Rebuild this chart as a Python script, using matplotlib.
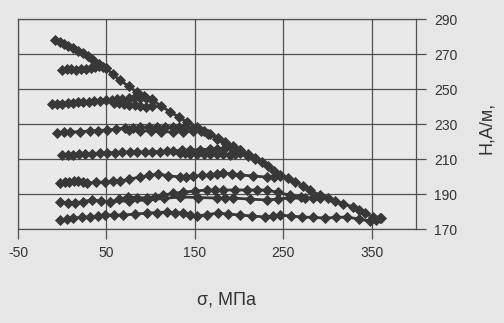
import matplotlib
matplotlib.use("Agg")
import matplotlib.pyplot as plt

plt.rcParams["axes.unicode_minus"] = False

# envelope (upper boundary) and the family of H(sigma) curves
env_s = [-8, -3, 2, 7, 12, 18, 23, 29, 35, 42, 50, 57, 65, 75, 84, 93, 102, 112,
         122, 132, 141, 152, 160, 167, 176, 184, 193, 201, 210, 218, 226, 233,
         240, 246, 255, 263, 272, 280, 291, 300, 308, 318, 329, 336, 342, 351,
         359]
env_h = [278, 276.8, 275.7, 274.6, 273.4, 272, 270.6, 268.6, 266.6, 264.5, 262,
         258.5, 255.1, 251.6, 248.3, 246, 243.7, 240.3, 236.9, 234, 231.1, 228.3,
         226.3, 224.3, 222, 219.7, 217.4, 215.1, 212.8, 210.6, 208.3, 206, 203.4,
         200.9, 198.9, 196.9, 194.6, 192.3, 189.4, 187.7, 186, 184.3, 182.6,
         180.8, 179.1, 176.9, 176.3]

c1_s = [0, 5, 10, 16, 21, 27, 32, 37, 42, 46, 50]
c1_h = [261, 261.3, 261.4, 260.9, 261.2, 261.4, 262, 262.5, 263, 262.6, 262]

c2_s = [-12, -6, 0, 6, 12, 18, 24, 30, 36, 43, 50, 56, 62, 68, 75, 81, 88, 95,
        102]
c2_h = [241.5, 241.6, 241.7, 242, 242.3, 242.4, 242.6, 242.8, 243, 243.2,
        243.5, 243.8, 244.2, 244.5, 244.8, 244.8, 244.8, 244.6, 244.3]
c2b_s = [102, 95, 88, 82, 76, 70, 64, 58]
c2b_h = [240.5, 239.7, 240.1, 240.6, 241, 241.5, 241.9, 242.3]

c3_s = [-6, 2, 9, 20, 31, 41, 51, 61, 71, 80, 88, 98, 107, 116, 125, 132, 139,
        148, 157, 165, 175, 185, 193, 201, 210, 218]
c3_h = [224.9, 225.2, 225.4, 225.7, 226, 226.3, 226.6, 227.2, 227.7, 228,
        228.3, 228.3, 228.3, 228.3, 228.3, 228.3, 228.3, 227.7, 226, 224.5,
        221.5, 218.5, 216.2, 214, 212, 210]
c3b_s = [148, 136, 125, 112, 100, 88, 75]
c3b_h = [226, 225.7, 225.4, 225.7, 226, 226.3, 226.6]

c4_s = [0, 6, 12, 19, 26, 34, 43, 51, 60, 68, 77, 85, 94, 102, 111, 118, 125,
        135, 145, 156, 167, 175, 184, 193, 201]
c4_h = [212.3, 212.3, 212.3, 212.6, 212.9, 213.1, 213.4, 213.6, 213.7, 213.9,
        214, 214, 214, 214.2, 214.3, 214.5, 214.6, 214.9, 215.1, 215.4, 215.7,
        216, 216.3, 215.7, 215.1]
c4b_s = [201, 195, 190, 182, 175, 167, 160, 152, 145, 139, 133]
c4b_h = [213.5, 212.9, 212.3, 212.6, 213, 212.8, 212.6, 212.8, 213, 213.2,
         213.4]

c5_s = [-2.5, 3, 8, 13, 18, 23, 28, 38, 48, 57, 65, 76, 88, 98, 108, 120, 133,
        140, 148, 158, 167, 175, 182, 192, 201, 216, 231, 239, 246]
c5_h = [196.3, 196.6, 196.9, 197.2, 197.4, 196.8, 196.3, 196.6, 196.9, 197.2,
        197.4, 198.5, 199.7, 200.6, 201.4, 200.5, 199.7, 200, 200.3, 200.6,
        200.9, 201.5, 202, 201.5, 200.9, 200.3, 199.7, 200, 200.3]

c6_s = [-2.5, 6, 14, 24, 34, 44, 54, 64, 74, 85, 96, 105, 114, 125, 137, 150,
        164, 173, 182, 195, 209, 220, 231, 244, 257, 270, 283, 291]
c6_h = [185.4, 185.1, 184.9, 185.7, 186.6, 186, 185.4, 186.9, 188.3, 188,
        187.7, 188.5, 189.4, 190.3, 191.1, 191.7, 192.3, 192.3, 192.3, 192.3,
        192.3, 192.3, 192.3, 190.9, 189.4, 188.5, 187.7, 188.9]
c6b_s = [291, 274, 257, 244, 231, 212, 193, 184, 175, 154, 133, 115, 96, 75, 54]
c6b_h = [187.5, 187.6, 187.7, 187.1, 186.6, 187.1, 187.7, 187.7, 187.7, 188,
         188.3, 187.5, 186.6, 186.1, 185.6]

c7_s = [-2.5, 5, 12, 22, 31, 40, 48, 58, 69, 82, 96, 107, 118, 127, 137, 145,
        152, 164, 176, 188, 201, 215, 229, 238, 246, 259, 271, 284, 297, 310,
        322, 335, 348, 355, 360]
c7_h = [175.1, 175.7, 176.3, 176.6, 176.9, 177.4, 178, 178, 178, 178.5, 179.1,
        179.4, 179.7, 179.4, 179.1, 178.2, 177.4, 178.2, 179.1, 178.5, 178,
        177.4, 176.9, 177.4, 178, 177.4, 176.9, 176.6, 176.3, 176.6, 176.9,
        175.7, 174.5, 175.4, 176.3]

curves = [(env_s, env_h), (c1_s, c1_h), (c2_s, c2_h), (c2b_s, c2b_h),
          (c3_s, c3_h), (c3b_s, c3b_h), (c4_s, c4_h), (c4b_s, c4b_h),
          (c5_s, c5_h), (c6_s, c6_h), (c6b_s, c6b_h), (c7_s, c7_h)]

x_ticks = [-50, 50, 150, 250, 350]
y_ticks = [170, 190, 210, 230, 250, 270, 290]

bg = "#e6e6e6"
dark = "#383838"

fig = plt.figure(figsize=(5.04, 3.23), dpi=100, facecolor=bg)
ax = fig.add_axes([0.0357, 0.291, 0.7897, 0.650], facecolor="#e9e9e9")

for s, h in curves:
    ax.plot(s, h, color=dark, lw=2.0, marker="D", markersize=5,
            markeredgewidth=0.6, zorder=3)

ax.set_xlim(-50, 400)
ax.set_ylim(170, 290)
ax.set_xticks(x_ticks)
ax.set_yticks(y_ticks)
ax.grid(True, color="#505050", lw=0.9)
ax.yaxis.tick_right()
for sp in ax.spines.values():
    sp.set_color("#505050")
    sp.set_linewidth(0.9)
ax.tick_params(axis="both", direction="out", length=7, width=0.9,
               color="#505050", labelcolor="#333333", labelsize=10)
ax.tick_params(axis="x", pad=5)
ax.tick_params(axis="y", pad=6)
for lab in ax.get_xticklabels() + ax.get_yticklabels():
    lab.set_family("Liberation Sans")

fig.text(0.45, 0.071, "σ, МПа", ha="center", va="center", fontsize=13,
         family="Liberation Sans", color="#333333")
fig.text(0.966, 0.604, "H,A/м,", ha="center", va="center", rotation=90,
         fontsize=13, family="Liberation Sans", color="#333333")

fig.savefig("out.png", dpi=100, facecolor=bg)
